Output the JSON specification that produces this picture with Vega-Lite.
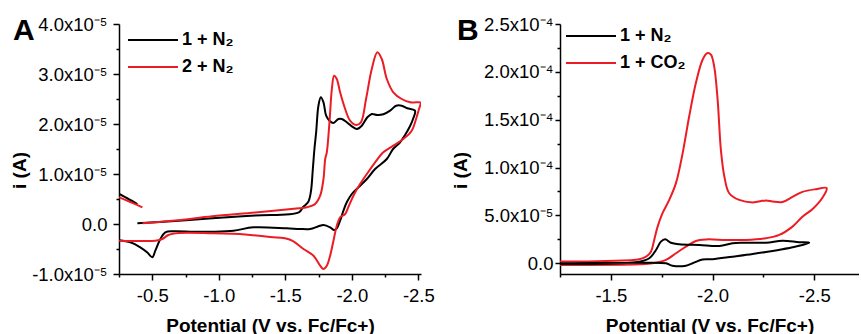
{
  "$schema": "https://vega.github.io/schema/vega-lite/v6.json",
  "autosize": {"type": "pad"},
  "padding": {"left": 10, "top": 15, "right": 0, "bottom": 0},
  "bounds": "flush",
  "spacing": 139,
  "config": {
    "view": {"stroke": null},
    "font": "Liberation Sans",
    "axis": {
      "grid": false,
      "domainColor": "#000000",
      "domainWidth": 1.5,
      "tickColor": "#000000",
      "tickWidth": 1.5,
      "labelColor": "#000000",
      "labelFont": "Liberation Sans",
      "labelFontSize": 18.5,
      "titleFont": "Liberation Sans",
      "titleFontSize": 19,
      "titleFontWeight": "bold",
      "titleColor": "#000000"
    },
    "legend": {
      "orient": "none",
      "title": null,
      "symbolType": "stroke",
      "symbolSize": 2500,
      "symbolStrokeWidth": 2,
      "labelFont": "Liberation Sans",
      "labelFontSize": 18,
      "labelFontWeight": "bold",
      "labelColor": "#000000",
      "clipHeight": 27,
      "rowPadding": 0,
      "labelOffset": 3,
      "padding": 0
    },
    "title": {"font": "Liberation Sans", "fontSize": 30, "fontWeight": "bold", "color": "#000000"},
    "line": {"strokeWidth": 2, "interpolate": "catmull-rom"}
  },
  "datasets": {
    "A": [
      {"s": "1 + N₂", "g": "k0", "o": 1, "v": -0.251, "i": 0.60e-5},
      {"s": "1 + N₂", "g": "k0", "o": 2, "v": -0.321, "i": 0.50e-5},
      {"s": "1 + N₂", "g": "k0", "o": 3, "v": -0.388, "i": 0.40e-5},
      {"s": "1 + N₂", "g": "k1", "o": 1, "v": -0.388, "i": 0.014e-5},
      {"s": "1 + N₂", "g": "k1", "o": 2, "v": -0.673, "i": 0.06e-5},
      {"s": "1 + N₂", "g": "k1", "o": 3, "v": -0.951, "i": 0.114e-5},
      {"s": "1 + N₂", "g": "k1", "o": 4, "v": -1.274, "i": 0.17e-5},
      {"s": "1 + N₂", "g": "k1", "o": 5, "v": -1.602, "i": 0.234e-5},
      {"s": "1 + N₂", "g": "k1", "o": 6, "v": -1.634, "i": 0.34e-5},
      {"s": "1 + N₂", "g": "k1", "o": 7, "v": -1.672, "i": 0.44e-5},
      {"s": "1 + N₂", "g": "k1", "o": 8, "v": -1.692, "i": 0.64e-5},
      {"s": "1 + N₂", "g": "k1", "o": 9, "v": -1.707, "i": 1.10e-5},
      {"s": "1 + N₂", "g": "k1", "o": 10, "v": -1.719, "i": 1.50e-5},
      {"s": "1 + N₂", "g": "k1", "o": 11, "v": -1.732, "i": 1.84e-5},
      {"s": "1 + N₂", "g": "k1", "o": 12, "v": -1.749, "i": 2.366e-5},
      {"s": "1 + N₂", "g": "k1", "o": 13, "v": -1.767, "i": 2.534e-5},
      {"s": "1 + N₂", "g": "k1", "o": 14, "v": -1.787, "i": 2.434e-5},
      {"s": "1 + N₂", "g": "k1", "o": 15, "v": -1.807, "i": 2.166e-5},
      {"s": "1 + N₂", "g": "k1", "o": 16, "v": -1.832, "i": 2.066e-5},
      {"s": "1 + N₂", "g": "k1", "o": 17, "v": -1.862, "i": 2.02e-5},
      {"s": "1 + N₂", "g": "k1", "o": 18, "v": -1.899, "i": 2.10e-5},
      {"s": "1 + N₂", "g": "k1", "o": 19, "v": -1.925, "i": 2.10e-5},
      {"s": "1 + N₂", "g": "k1", "o": 20, "v": -1.962, "i": 2.034e-5},
      {"s": "1 + N₂", "g": "k1", "o": 21, "v": -2.0, "i": 1.954e-5},
      {"s": "1 + N₂", "g": "k1", "o": 22, "v": -2.038, "i": 1.90e-5},
      {"s": "1 + N₂", "g": "k1", "o": 23, "v": -2.075, "i": 1.966e-5},
      {"s": "1 + N₂", "g": "k1", "o": 24, "v": -2.117, "i": 2.134e-5},
      {"s": "1 + N₂", "g": "k1", "o": 25, "v": -2.150, "i": 2.20e-5},
      {"s": "1 + N₂", "g": "k1", "o": 26, "v": -2.192, "i": 2.18e-5},
      {"s": "1 + N₂", "g": "k1", "o": 27, "v": -2.237, "i": 2.194e-5},
      {"s": "1 + N₂", "g": "k1", "o": 28, "v": -2.288, "i": 2.266e-5},
      {"s": "1 + N₂", "g": "k1", "o": 29, "v": -2.333, "i": 2.366e-5},
      {"s": "1 + N₂", "g": "k1", "o": 30, "v": -2.375, "i": 2.366e-5},
      {"s": "1 + N₂", "g": "k1", "o": 31, "v": -2.417, "i": 2.314e-5},
      {"s": "1 + N₂", "g": "k1", "o": 32, "v": -2.475, "i": 2.266e-5},
      {"s": "1 + N₂", "g": "k1", "o": 33, "v": -2.460, "i": 2.10e-5},
      {"s": "1 + N₂", "g": "k1", "o": 34, "v": -2.438, "i": 1.96e-5},
      {"s": "1 + N₂", "g": "k1", "o": 35, "v": -2.400, "i": 1.78e-5},
      {"s": "1 + N₂", "g": "k1", "o": 36, "v": -2.363, "i": 1.634e-5},
      {"s": "1 + N₂", "g": "k1", "o": 37, "v": -2.310, "i": 1.50e-5},
      {"s": "1 + N₂", "g": "k1", "o": 38, "v": -2.263, "i": 1.30e-5},
      {"s": "1 + N₂", "g": "k1", "o": 39, "v": -2.175, "i": 1.10e-5},
      {"s": "1 + N₂", "g": "k1", "o": 40, "v": -2.113, "i": 0.90e-5},
      {"s": "1 + N₂", "g": "k1", "o": 41, "v": -2.050, "i": 0.734e-5},
      {"s": "1 + N₂", "g": "k1", "o": 42, "v": -2.0, "i": 0.60e-5},
      {"s": "1 + N₂", "g": "k1", "o": 43, "v": -1.962, "i": 0.434e-5},
      {"s": "1 + N₂", "g": "k1", "o": 44, "v": -1.937, "i": 0.266e-5},
      {"s": "1 + N₂", "g": "k1", "o": 45, "v": -1.912, "i": 0.066e-5},
      {"s": "1 + N₂", "g": "k1", "o": 46, "v": -1.887, "i": -0.086e-5},
      {"s": "1 + N₂", "g": "k1", "o": 47, "v": -1.867, "i": -0.12e-5},
      {"s": "1 + N₂", "g": "k1", "o": 48, "v": -1.837, "i": -0.066e-5},
      {"s": "1 + N₂", "g": "k1", "o": 49, "v": -1.787, "i": -0.02e-5},
      {"s": "1 + N₂", "g": "k1", "o": 50, "v": -1.749, "i": -0.046e-5},
      {"s": "1 + N₂", "g": "k1", "o": 51, "v": -1.687, "i": -0.10e-5},
      {"s": "1 + N₂", "g": "k1", "o": 52, "v": -1.612, "i": -0.10e-5},
      {"s": "1 + N₂", "g": "k1", "o": 53, "v": -1.512, "i": -0.086e-5},
      {"s": "1 + N₂", "g": "k1", "o": 54, "v": -1.261, "i": -0.066e-5},
      {"s": "1 + N₂", "g": "k1", "o": 55, "v": -1.111, "i": -0.134e-5},
      {"s": "1 + N₂", "g": "k1", "o": 56, "v": -0.951, "i": -0.154e-5},
      {"s": "1 + N₂", "g": "k1", "o": 57, "v": -0.811, "i": -0.154e-5},
      {"s": "1 + N₂", "g": "k1", "o": 58, "v": -0.661, "i": -0.146e-5},
      {"s": "1 + N₂", "g": "k1", "o": 59, "v": -0.598, "i": -0.166e-5},
      {"s": "1 + N₂", "g": "k1", "o": 60, "v": -0.561, "i": -0.30e-5},
      {"s": "1 + N₂", "g": "k1", "o": 61, "v": -0.523, "i": -0.534e-5},
      {"s": "1 + N₂", "g": "k1", "o": 62, "v": -0.500, "i": -0.666e-5},
      {"s": "1 + N₂", "g": "k1", "o": 63, "v": -0.461, "i": -0.566e-5},
      {"s": "1 + N₂", "g": "k1", "o": 64, "v": -0.410, "i": -0.466e-5},
      {"s": "1 + N₂", "g": "k1", "o": 65, "v": -0.335, "i": -0.366e-5},
      {"s": "1 + N₂", "g": "k1", "o": 66, "v": -0.251, "i": -0.326e-5},
      {"s": "2 + N₂", "g": "r0", "o": 1, "v": -0.251, "i": 0.534e-5},
      {"s": "2 + N₂", "g": "r0", "o": 2, "v": -0.335, "i": 0.44e-5},
      {"s": "2 + N₂", "g": "r0", "o": 3, "v": -0.426, "i": 0.334e-5},
      {"s": "2 + N₂", "g": "r1", "o": 1, "v": -0.426, "i": 0.014e-5},
      {"s": "2 + N₂", "g": "r1", "o": 2, "v": -0.673, "i": 0.07e-5},
      {"s": "2 + N₂", "g": "r1", "o": 3, "v": -0.951, "i": 0.154e-5},
      {"s": "2 + N₂", "g": "r1", "o": 4, "v": -1.274, "i": 0.23e-5},
      {"s": "2 + N₂", "g": "r1", "o": 5, "v": -1.602, "i": 0.314e-5},
      {"s": "2 + N₂", "g": "r1", "o": 6, "v": -1.662, "i": 0.334e-5},
      {"s": "2 + N₂", "g": "r1", "o": 7, "v": -1.724, "i": 0.40e-5},
      {"s": "2 + N₂", "g": "r1", "o": 8, "v": -1.762, "i": 0.566e-5},
      {"s": "2 + N₂", "g": "r1", "o": 9, "v": -1.787, "i": 0.90e-5},
      {"s": "2 + N₂", "g": "r1", "o": 10, "v": -1.800, "i": 1.30e-5},
      {"s": "2 + N₂", "g": "r1", "o": 11, "v": -1.812, "i": 1.434e-5},
      {"s": "2 + N₂", "g": "r1", "o": 12, "v": -1.832, "i": 2.034e-5},
      {"s": "2 + N₂", "g": "r1", "o": 13, "v": -1.850, "i": 2.70e-5},
      {"s": "2 + N₂", "g": "r1", "o": 14, "v": -1.867, "i": 2.966e-5},
      {"s": "2 + N₂", "g": "r1", "o": 15, "v": -1.887, "i": 2.90e-5},
      {"s": "2 + N₂", "g": "r1", "o": 16, "v": -1.912, "i": 2.634e-5},
      {"s": "2 + N₂", "g": "r1", "o": 17, "v": -1.950, "i": 2.30e-5},
      {"s": "2 + N₂", "g": "r1", "o": 18, "v": -1.987, "i": 2.066e-5},
      {"s": "2 + N₂", "g": "r1", "o": 19, "v": -2.032, "i": 1.98e-5},
      {"s": "2 + N₂", "g": "r1", "o": 20, "v": -2.068, "i": 2.034e-5},
      {"s": "2 + N₂", "g": "r1", "o": 21, "v": -2.107, "i": 2.50e-5},
      {"s": "2 + N₂", "g": "r1", "o": 22, "v": -2.150, "i": 3.10e-5},
      {"s": "2 + N₂", "g": "r1", "o": 23, "v": -2.192, "i": 3.434e-5},
      {"s": "2 + N₂", "g": "r1", "o": 24, "v": -2.225, "i": 3.30e-5},
      {"s": "2 + N₂", "g": "r1", "o": 25, "v": -2.263, "i": 2.90e-5},
      {"s": "2 + N₂", "g": "r1", "o": 26, "v": -2.312, "i": 2.634e-5},
      {"s": "2 + N₂", "g": "r1", "o": 27, "v": -2.375, "i": 2.50e-5},
      {"s": "2 + N₂", "g": "r1", "o": 28, "v": -2.438, "i": 2.434e-5},
      {"s": "2 + N₂", "g": "r1", "o": 29, "v": -2.513, "i": 2.434e-5},
      {"s": "2 + N₂", "g": "r1", "o": 30, "v": -2.518, "i": 2.42e-5},
      {"s": "2 + N₂", "g": "r1", "o": 31, "v": -2.505, "i": 2.30e-5},
      {"s": "2 + N₂", "g": "r1", "o": 32, "v": -2.483, "i": 2.10e-5},
      {"s": "2 + N₂", "g": "r1", "o": 33, "v": -2.450, "i": 1.866e-5},
      {"s": "2 + N₂", "g": "r1", "o": 34, "v": -2.387, "i": 1.70e-5},
      {"s": "2 + N₂", "g": "r1", "o": 35, "v": -2.312, "i": 1.566e-5},
      {"s": "2 + N₂", "g": "r1", "o": 36, "v": -2.237, "i": 1.434e-5},
      {"s": "2 + N₂", "g": "r1", "o": 37, "v": -2.175, "i": 1.234e-5},
      {"s": "2 + N₂", "g": "r1", "o": 38, "v": -2.113, "i": 1.0e-5},
      {"s": "2 + N₂", "g": "r1", "o": 39, "v": -2.062, "i": 0.80e-5},
      {"s": "2 + N₂", "g": "r1", "o": 40, "v": -2.012, "i": 0.566e-5},
      {"s": "2 + N₂", "g": "r1", "o": 41, "v": -1.974, "i": 0.34e-5},
      {"s": "2 + N₂", "g": "r1", "o": 42, "v": -1.950, "i": 0.20e-5},
      {"s": "2 + N₂", "g": "r1", "o": 43, "v": -1.912, "i": 0.134e-5},
      {"s": "2 + N₂", "g": "r1", "o": 44, "v": -1.887, "i": -0.034e-5},
      {"s": "2 + N₂", "g": "r1", "o": 45, "v": -1.862, "i": -0.334e-5},
      {"s": "2 + N₂", "g": "r1", "o": 46, "v": -1.837, "i": -0.634e-5},
      {"s": "2 + N₂", "g": "r1", "o": 47, "v": -1.812, "i": -0.834e-5},
      {"s": "2 + N₂", "g": "r1", "o": 48, "v": -1.787, "i": -0.90e-5},
      {"s": "2 + N₂", "g": "r1", "o": 49, "v": -1.762, "i": -0.834e-5},
      {"s": "2 + N₂", "g": "r1", "o": 50, "v": -1.712, "i": -0.634e-5},
      {"s": "2 + N₂", "g": "r1", "o": 51, "v": -1.637, "i": -0.50e-5},
      {"s": "2 + N₂", "g": "r1", "o": 52, "v": -1.537, "i": -0.314e-5},
      {"s": "2 + N₂", "g": "r1", "o": 53, "v": -1.387, "i": -0.26e-5},
      {"s": "2 + N₂", "g": "r1", "o": 54, "v": -1.199, "i": -0.21e-5},
      {"s": "2 + N₂", "g": "r1", "o": 55, "v": -0.951, "i": -0.186e-5},
      {"s": "2 + N₂", "g": "r1", "o": 56, "v": -0.701, "i": -0.18e-5},
      {"s": "2 + N₂", "g": "r1", "o": 57, "v": -0.621, "i": -0.22e-5},
      {"s": "2 + N₂", "g": "r1", "o": 58, "v": -0.576, "i": -0.30e-5},
      {"s": "2 + N₂", "g": "r1", "o": 59, "v": -0.523, "i": -0.334e-5},
      {"s": "2 + N₂", "g": "r1", "o": 60, "v": -0.410, "i": -0.34e-5},
      {"s": "2 + N₂", "g": "r1", "o": 61, "v": -0.251, "i": -0.334e-5}
    ],
    "B": [
      {"s": "1 + CO₂", "g": "c1", "o": 1, "v": -1.20, "i": 0.017e-4},
      {"s": "1 + CO₂", "g": "c1", "o": 2, "v": -1.476, "i": 0.024e-4},
      {"s": "1 + CO₂", "g": "c1", "o": 3, "v": -1.640, "i": 0.042e-4},
      {"s": "1 + CO₂", "g": "c1", "o": 4, "v": -1.673, "i": 0.069e-4},
      {"s": "1 + CO₂", "g": "c1", "o": 5, "v": -1.697, "i": 0.121e-4},
      {"s": "1 + CO₂", "g": "c1", "o": 6, "v": -1.713, "i": 0.244e-4},
      {"s": "1 + CO₂", "g": "c1", "o": 7, "v": -1.730, "i": 0.383e-4},
      {"s": "1 + CO₂", "g": "c1", "o": 8, "v": -1.754, "i": 0.523e-4},
      {"s": "1 + CO₂", "g": "c1", "o": 9, "v": -1.787, "i": 0.662e-4},
      {"s": "1 + CO₂", "g": "c1", "o": 10, "v": -1.820, "i": 0.837e-4},
      {"s": "1 + CO₂", "g": "c1", "o": 11, "v": -1.853, "i": 1.151e-4},
      {"s": "1 + CO₂", "g": "c1", "o": 12, "v": -1.885, "i": 1.533e-4},
      {"s": "1 + CO₂", "g": "c1", "o": 13, "v": -1.918, "i": 1.883e-4},
      {"s": "1 + CO₂", "g": "c1", "o": 14, "v": -1.951, "i": 2.127e-4},
      {"s": "1 + CO₂", "g": "c1", "o": 15, "v": -1.975, "i": 2.197e-4},
      {"s": "1 + CO₂", "g": "c1", "o": 16, "v": -1.992, "i": 2.179e-4},
      {"s": "1 + CO₂", "g": "c1", "o": 17, "v": -2.008, "i": 2.057e-4},
      {"s": "1 + CO₂", "g": "c1", "o": 18, "v": -2.025, "i": 1.708e-4},
      {"s": "1 + CO₂", "g": "c1", "o": 19, "v": -2.041, "i": 1.185e-4},
      {"s": "1 + CO₂", "g": "c1", "o": 20, "v": -2.058, "i": 0.906e-4},
      {"s": "1 + CO₂", "g": "c1", "o": 21, "v": -2.082, "i": 0.732e-4},
      {"s": "1 + CO₂", "g": "c1", "o": 22, "v": -2.131, "i": 0.662e-4},
      {"s": "1 + CO₂", "g": "c1", "o": 23, "v": -2.197, "i": 0.636e-4},
      {"s": "1 + CO₂", "g": "c1", "o": 24, "v": -2.263, "i": 0.657e-4},
      {"s": "1 + CO₂", "g": "c1", "o": 25, "v": -2.295, "i": 0.646e-4},
      {"s": "1 + CO₂", "g": "c1", "o": 26, "v": -2.344, "i": 0.641e-4},
      {"s": "1 + CO₂", "g": "c1", "o": 27, "v": -2.393, "i": 0.694e-4},
      {"s": "1 + CO₂", "g": "c1", "o": 28, "v": -2.442, "i": 0.746e-4},
      {"s": "1 + CO₂", "g": "c1", "o": 29, "v": -2.508, "i": 0.774e-4},
      {"s": "1 + CO₂", "g": "c1", "o": 30, "v": -2.561, "i": 0.785e-4},
      {"s": "1 + CO₂", "g": "c1", "o": 31, "v": -2.541, "i": 0.688e-4},
      {"s": "1 + CO₂", "g": "c1", "o": 32, "v": -2.492, "i": 0.568e-4},
      {"s": "1 + CO₂", "g": "c1", "o": 33, "v": -2.442, "i": 0.487e-4},
      {"s": "1 + CO₂", "g": "c1", "o": 34, "v": -2.393, "i": 0.383e-4},
      {"s": "1 + CO₂", "g": "c1", "o": 35, "v": -2.328, "i": 0.296e-4},
      {"s": "1 + CO₂", "g": "c1", "o": 36, "v": -2.263, "i": 0.262e-4},
      {"s": "1 + CO₂", "g": "c1", "o": 37, "v": -2.164, "i": 0.244e-4},
      {"s": "1 + CO₂", "g": "c1", "o": 38, "v": -2.066, "i": 0.244e-4},
      {"s": "1 + CO₂", "g": "c1", "o": 39, "v": -1.968, "i": 0.249e-4},
      {"s": "1 + CO₂", "g": "c1", "o": 40, "v": -1.918, "i": 0.233e-4},
      {"s": "1 + CO₂", "g": "c1", "o": 41, "v": -1.869, "i": 0.174e-4},
      {"s": "1 + CO₂", "g": "c1", "o": 42, "v": -1.820, "i": 0.105e-4},
      {"s": "1 + CO₂", "g": "c1", "o": 43, "v": -1.771, "i": 0.035e-4},
      {"s": "1 + CO₂", "g": "c1", "o": 44, "v": -1.705, "i": 0.0},
      {"s": "1 + CO₂", "g": "c1", "o": 45, "v": -1.640, "i": -0.010e-4},
      {"s": "1 + CO₂", "g": "c1", "o": 46, "v": -1.20, "i": -0.018e-4},
      {"s": "1 + N₂", "g": "n1", "o": 1, "v": -1.20, "i": -0.007e-4},
      {"s": "1 + N₂", "g": "n1", "o": 2, "v": -1.640, "i": 0.017e-4},
      {"s": "1 + N₂", "g": "n1", "o": 3, "v": -1.689, "i": 0.052e-4},
      {"s": "1 + N₂", "g": "n1", "o": 4, "v": -1.722, "i": 0.139e-4},
      {"s": "1 + N₂", "g": "n1", "o": 5, "v": -1.746, "i": 0.226e-4},
      {"s": "1 + N₂", "g": "n1", "o": 6, "v": -1.767, "i": 0.251e-4},
      {"s": "1 + N₂", "g": "n1", "o": 7, "v": -1.795, "i": 0.215e-4},
      {"s": "1 + N₂", "g": "n1", "o": 8, "v": -1.836, "i": 0.199e-4},
      {"s": "1 + N₂", "g": "n1", "o": 9, "v": -1.935, "i": 0.191e-4},
      {"s": "1 + N₂", "g": "n1", "o": 10, "v": -2.033, "i": 0.181e-4},
      {"s": "1 + N₂", "g": "n1", "o": 11, "v": -2.098, "i": 0.209e-4},
      {"s": "1 + N₂", "g": "n1", "o": 12, "v": -2.147, "i": 0.215e-4},
      {"s": "1 + N₂", "g": "n1", "o": 13, "v": -2.263, "i": 0.215e-4},
      {"s": "1 + N₂", "g": "n1", "o": 14, "v": -2.344, "i": 0.236e-4},
      {"s": "1 + N₂", "g": "n1", "o": 15, "v": -2.426, "i": 0.220e-4},
      {"s": "1 + N₂", "g": "n1", "o": 16, "v": -2.475, "i": 0.215e-4},
      {"s": "1 + N₂", "g": "n1", "o": 17, "v": -2.393, "i": 0.167e-4},
      {"s": "1 + N₂", "g": "n1", "o": 18, "v": -2.295, "i": 0.129e-4},
      {"s": "1 + N₂", "g": "n1", "o": 19, "v": -2.197, "i": 0.097e-4},
      {"s": "1 + N₂", "g": "n1", "o": 20, "v": -2.098, "i": 0.069e-4},
      {"s": "1 + N₂", "g": "n1", "o": 21, "v": -2.0, "i": 0.042e-4},
      {"s": "1 + N₂", "g": "n1", "o": 22, "v": -1.951, "i": 0.040e-4},
      {"s": "1 + N₂", "g": "n1", "o": 23, "v": -1.902, "i": 0.0},
      {"s": "1 + N₂", "g": "n1", "o": 24, "v": -1.869, "i": -0.025e-4},
      {"s": "1 + N₂", "g": "n1", "o": 25, "v": -1.803, "i": -0.025e-4},
      {"s": "1 + N₂", "g": "n1", "o": 26, "v": -1.771, "i": 0.0},
      {"s": "1 + N₂", "g": "n1", "o": 27, "v": -1.640, "i": 0.006e-4},
      {"s": "1 + N₂", "g": "n1", "o": 28, "v": -1.20, "i": 0.0}
    ]
  },
  "hconcat": [
    {
      "width": 302,
      "height": 250,
      "data": {"name": "A"},
      "title": {"text": "A", "anchor": "start", "frame": "group", "align": "left", "baseline": "alphabetic", "offset": 0, "dx": -106, "dy": 55},
      "mark": {"type": "line", "clip": true},
      "encoding": {
        "x": {
          "field": "v", "type": "quantitative",
          "scale": {"domain": [-2.52, -0.25], "reverse": true, "nice": false, "zero": false},
          "axis": {
            "title": "Potential (V vs. Fc/Fc+)",
            "values": [-0.25, -0.5, -0.75, -1, -1.25, -1.5, -1.75, -2, -2.25, -2.5],
            "labelExpr": "abs(datum.value*2 - round(datum.value*2)) > 0.01 ? '' : replace(format(datum.value, '.1f'), '−', '-')",
            "tickSize": {"condition": {"test": "abs(datum.value*2 - round(datum.value*2)) < 0.01", "value": 6}, "value": 3},
            "labelFlush": false,
            "labelPadding": 6,
            "titleBaseline": "alphabetic",
            "titleY": 57
          }
        },
        "y": {
          "field": "i", "type": "quantitative",
          "scale": {"domain": [-1e-5, 4e-5], "nice": false, "zero": false},
          "axis": {
            "title": "i (A)",
            "values": [-1e-5, -0.5e-5, 0, 0.5e-5, 1e-5, 1.5e-5, 2e-5, 2.5e-5, 3e-5, 3.5e-5, 4e-5],
            "labelExpr": "abs(datum.value*1e5 - round(datum.value*1e5)) > 0.01 ? '' : (abs(datum.value) < 1e-9 ? '0.0' : replace(format(datum.value*1e5, '.1f'), '−', '-') + 'x10⁻⁵')",
            "tickSize": {"condition": {"test": "abs(datum.value*1e5 - round(datum.value*1e5)) < 0.01", "value": 6}, "value": 3},
            "labelFlush": false,
            "labelPadding": 6,
            "titleX": -90,
            "titleY": 146,
            "titleAngle": -90,
            "titleAlign": "center",
            "titleBaseline": "bottom"
          }
        },
        "color": {
          "field": "s", "type": "nominal",
          "scale": {"domain": ["1 + N₂", "2 + N₂"], "range": ["#000000", "#ec1c24"]},
          "legend": {"legendX": 8, "legendY": 2.5}
        },
        "detail": {"field": "g"},
        "order": {"field": "o", "type": "quantitative"}
      }
    },
    {
      "width": 299,
      "height": 250,
      "data": {"name": "B"},
      "title": {"text": "B", "anchor": "start", "frame": "group", "align": "left", "baseline": "alphabetic", "offset": 0, "dx": -103, "dy": 55},
      "mark": {"type": "line", "clip": true},
      "encoding": {
        "x": {
          "field": "v", "type": "quantitative",
          "scale": {"domain": [-2.72, -1.25], "reverse": true, "nice": false, "zero": false},
          "axis": {
            "title": "Potential (V vs. Fc/Fc+)",
            "values": [-1.25, -1.5, -1.75, -2, -2.25, -2.5],
            "labelExpr": "abs(datum.value*2 - round(datum.value*2)) > 0.01 ? '' : replace(format(datum.value, '.1f'), '−', '-')",
            "tickSize": {"condition": {"test": "abs(datum.value*2 - round(datum.value*2)) < 0.01", "value": 6}, "value": 3},
            "labelFlush": false,
            "labelPadding": 6,
            "titleBaseline": "alphabetic",
            "titleY": 57
          }
        },
        "y": {
          "field": "i", "type": "quantitative",
          "scale": {"domain": [-1.12e-5, 2.5e-4], "nice": false, "zero": false},
          "axis": {
            "title": "i (A)",
            "values": [0, 2.5e-5, 5e-5, 7.5e-5, 1e-4, 1.25e-4, 1.5e-4, 1.75e-4, 2e-4, 2.25e-4, 2.5e-4],
            "labelExpr": "abs(datum.value/5e-5 - round(datum.value/5e-5)) > 0.01 ? '' : (abs(datum.value) < 1e-9 ? '0.0' : (datum.value < 9e-5 ? replace(format(datum.value*1e5, '.1f'), '−', '-') + 'x10⁻⁵' : replace(format(datum.value*1e4, '.1f'), '−', '-') + 'x10⁻⁴'))",
            "tickSize": {"condition": {"test": "abs(datum.value/5e-5 - round(datum.value/5e-5)) < 0.01", "value": 5}, "value": 3},
            "labelFlush": false,
            "labelPadding": 2,
            "titleX": -90,
            "titleY": 146,
            "titleAngle": -90,
            "titleAlign": "center",
            "titleBaseline": "bottom"
          }
        },
        "color": {
          "field": "s", "type": "nominal",
          "scale": {"domain": ["1 + N₂", "1 + CO₂"], "range": ["#000000", "#ec1c24"]},
          "legend": {"legendX": 5, "legendY": -1.5}
        },
        "detail": {"field": "g"},
        "order": {"field": "o", "type": "quantitative"}
      }
    }
  ],
  "resolve": {"scale": {"color": "independent"}, "legend": {"color": "independent"}}
}
